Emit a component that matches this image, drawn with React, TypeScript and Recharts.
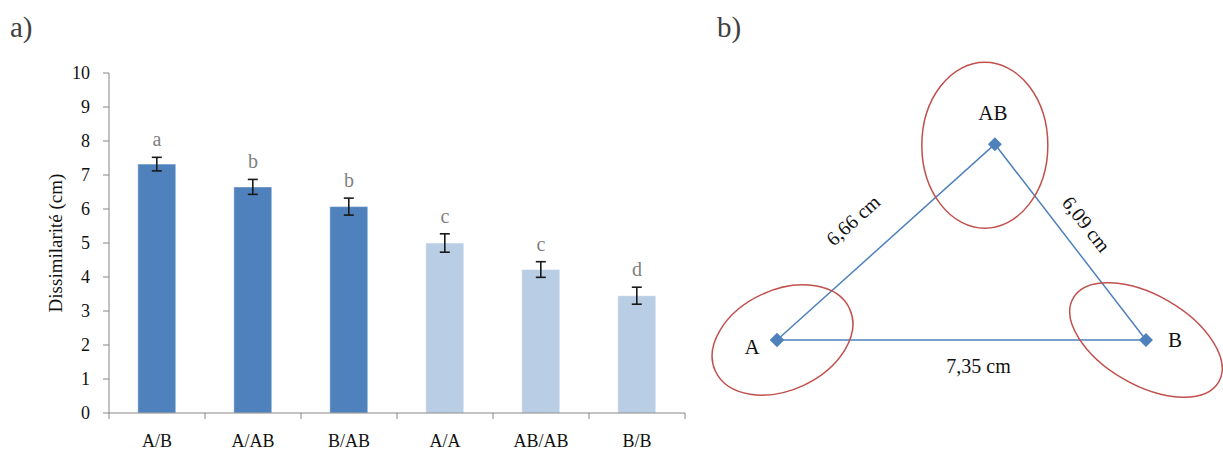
import React from 'react';
import { ComposedChart, Bar, Scatter, XAxis, YAxis, ErrorBar, Cell, ScatterChart } from 'recharts';

// ---- panel a) : dissimilarity by pair type ----
const categories = ['A/B', 'A/AB', 'B/AB', 'A/A', 'AB/AB', 'B/B'];
const dissimilarity = [7.32, 6.65, 6.07, 5.0, 4.22, 3.45];
const stdErr = [0.2, 0.22, 0.25, 0.27, 0.23, 0.25];
const letters = ['a', 'b', 'b', 'c', 'c', 'd'];
const pairType = ['inter', 'inter', 'inter', 'intra', 'intra', 'intra'];
const yTicks = [0, 1, 2, 3, 4, 5, 6, 7, 8, 9, 10];

// ---- panel b) : triangle of mean distances ----
const vertexNames = ['A', 'AB', 'B'];
const vertexX = [0, 4.34, 7.35];
const vertexY = [0, 3.9, 0];
const clusterX = [0.11, 4.14, 7.35];
const clusterY = [0, 3.88, 0];
// edges in order A-AB, AB-B, B-A
const edgeLabels = ['6,66 cm', '6,09 cm', '7,35 cm'];

const FONT = '"Liberation Serif", "DejaVu Serif", serif';
const DARK = '#4F81BD';
const LIGHT = '#B9CDE5';
const AXIS = '#868686';
const RED = '#C0504D';

// bar chart geometry
const A_W = 700;
const A_MARGIN = { top: 73, right: 15, bottom: 36, left: 1 };
const Y_AXIS_W = 108;
const BAND = (A_W - A_MARGIN.left - A_MARGIN.right - Y_AXIS_W) / categories.length;
const TICK_MARGIN = 21;

const barData = categories.map((cat, i) => ({
    cat,
    value: dissimilarity[i],
    err: stdErr[i],
    errTop: dissimilarity[i] + stdErr[i],
    letter: letters[i],
    type: pairType[i],
}));

const vertices = vertexNames.map((name, i) => ({ name, x: vertexX[i], y: vertexY[i] }));
const triangle = [vertices[0], vertices[1], vertices[2], vertices[0]];
const clusters = vertexNames.map((name, i) => ({ name, x: clusterX[i], y: clusterY[i] }));
const edges = edgeLabels.map((label, i) => {
    const p = triangle[i];
    const q = triangle[i + 1];
    return { label, x: (p.x + q.x) / 2, y: (p.y + q.y) / 2 };
});

const ELLIPSE: Record<string, { rx: number; ry: number; rot: number }> = {
    A: { rx: 74, ry: 50, rot: -25 },
    AB: { rx: 63, ry: 83, rot: 0 },
    B: { rx: 84, ry: 45, rot: 30 },
};
const VERTEX_LABEL: Record<string, { dx: number; dy: number }> = {
    A: { dx: -25, dy: 7 },
    AB: { dx: -2, dy: -31 },
    B: { dx: 29, dy: 0 },
};
const EDGE_LABEL: Record<string, { dx: number; dy: number; rot: number }> = {
    '6,66 cm': { dx: -33, dy: -22, rot: -42 },
    '6,09 cm': { dx: 16, dy: -18, rot: 52 },
    '7,35 cm': { dx: 17, dy: 26, rot: 0 },
};

// category tick: label in the middle, tick marks on band boundaries (Excel style)
const CategoryTick = (props: any) => {
    const { x, y, payload, index } = props;
    const axisY = y - TICK_MARGIN;
    const left = x - BAND / 2;
    const right = x + BAND / 2;
    return (
        <g>
            <line x1={left} y1={axisY} x2={left} y2={axisY + 6} stroke={AXIS} />
            {index === categories.length - 1 && <line x1={right} y1={axisY} x2={right} y2={axisY + 6} stroke={AXIS} />}
            <text x={x} y={y} dy="0.71em" textAnchor="middle" fontSize={18} fontFamily={FONT} fill="#111">
                {payload.value}
            </text>
        </g>
    );
};

const LetterShape = (props: any) => {
    const { cx, cy, payload } = props;
    return (
        <text x={cx} y={cy - 11} textAnchor="middle" fill="#808080" fontSize={20} fontFamily={FONT}>
            {payload.letter}
        </text>
    );
};

const Diamond = (props: any) => {
    const { cx, cy } = props;
    const r = 7;
    return <path d={`M${cx - r},${cy} L${cx},${cy - r} L${cx + r},${cy} L${cx},${cy + r} Z`} fill={DARK} />;
};

const EllipseShape = (props: any) => {
    const { cx, cy, payload } = props;
    const e = ELLIPSE[payload.name];
    return (
        <ellipse cx={cx} cy={cy} rx={e.rx} ry={e.ry} transform={`rotate(${e.rot} ${cx} ${cy})`}
            fill="none" stroke={RED} strokeWidth={1.5} />
    );
};

const VertexLabel = (props: any) => {
    const { cx, cy, payload } = props;
    const o = VERTEX_LABEL[payload.name];
    return (
        <text x={cx + o.dx} y={cy + o.dy} textAnchor="middle" dominantBaseline="central" fontSize={21} fontFamily={FONT} fill="#111">
            {payload.name}
        </text>
    );
};

const EdgeLabel = (props: any) => {
    const { cx, cy, payload } = props;
    const o = EDGE_LABEL[payload.label];
    const x = cx + o.dx;
    const y = cy + o.dy;
    return (
        <text x={x} y={y} textAnchor="middle" dominantBaseline="central" fontSize={20} fontFamily={FONT} fill="#111"
            transform={`rotate(${o.rot} ${x} ${y})`}>
            {payload.label}
        </text>
    );
};

const panelTitle = (left: number): React.CSSProperties => ({
    position: 'absolute', left, top: 11, fontFamily: FONT, fontSize: 29, color: '#404040', lineHeight: '32px',
});

export default function App() {
    return (
        <div style={{ position: 'absolute', left: 0, top: 0, width: 1223, height: 450, background: '#fff' }}>
            <div style={panelTitle(10)}>a)</div>
            <div style={panelTitle(717)}>b)</div>

            <div style={{ position: 'absolute', left: 0, top: 0 }}>
                <ComposedChart width={A_W} height={450} data={barData} margin={A_MARGIN} barCategoryGap="30%">
                    <XAxis dataKey="cat" type="category" height={1} axisLine={{ stroke: AXIS }} tickLine={false}
                        tickSize={0} tickMargin={TICK_MARGIN} interval={0} tick={<CategoryTick />} />
                    <YAxis domain={[0, 10]} ticks={yTicks} width={Y_AXIS_W} interval={0} tickSize={6} tickMargin={13}
                        axisLine={{ stroke: AXIS }} tickLine={{ stroke: AXIS }}
                        tick={{ fontSize: 18, fontFamily: FONT, fill: '#111' }}
                        label={{ value: 'Dissimilarité (cm)', angle: -90, position: 'center', fontSize: 19, fontFamily: FONT, fill: '#111' }} />
                    <Bar dataKey="value" isAnimationActive={false} stroke="#fff" strokeOpacity={0.5} strokeWidth={1}>
                        {barData.map((d, i) => (
                            <Cell key={`cell-${i}`} fill={d.type === 'inter' ? DARK : LIGHT} />
                        ))}
                        <ErrorBar dataKey="err" width={5} strokeWidth={1.6} stroke="#1a1a1a" direction="y" />
                    </Bar>
                    <Scatter dataKey="errTop" isAnimationActive={false} shape={LetterShape} />
                </ComposedChart>
            </div>

            <div style={{ position: 'absolute', left: 700, top: 0 }}>
                <ScatterChart width={523} height={450} margin={{ top: 89, right: 44.4, bottom: 59.8, left: 26.8 }}>
                    <XAxis type="number" dataKey="x" domain={[-1, 8]} hide />
                    <YAxis type="number" dataKey="y" domain={[-1, 5]} hide />
                    <Scatter data={triangle} isAnimationActive={false} line={{ stroke: DARK, strokeWidth: 1.5 }}
                        shape={Diamond} />
                    <Scatter data={clusters} isAnimationActive={false} shape={EllipseShape} />
                    <Scatter data={vertices} isAnimationActive={false} shape={VertexLabel} />
                    <Scatter data={edges} isAnimationActive={false} shape={EdgeLabel} />
                </ScatterChart>
            </div>
        </div>
    );
}
